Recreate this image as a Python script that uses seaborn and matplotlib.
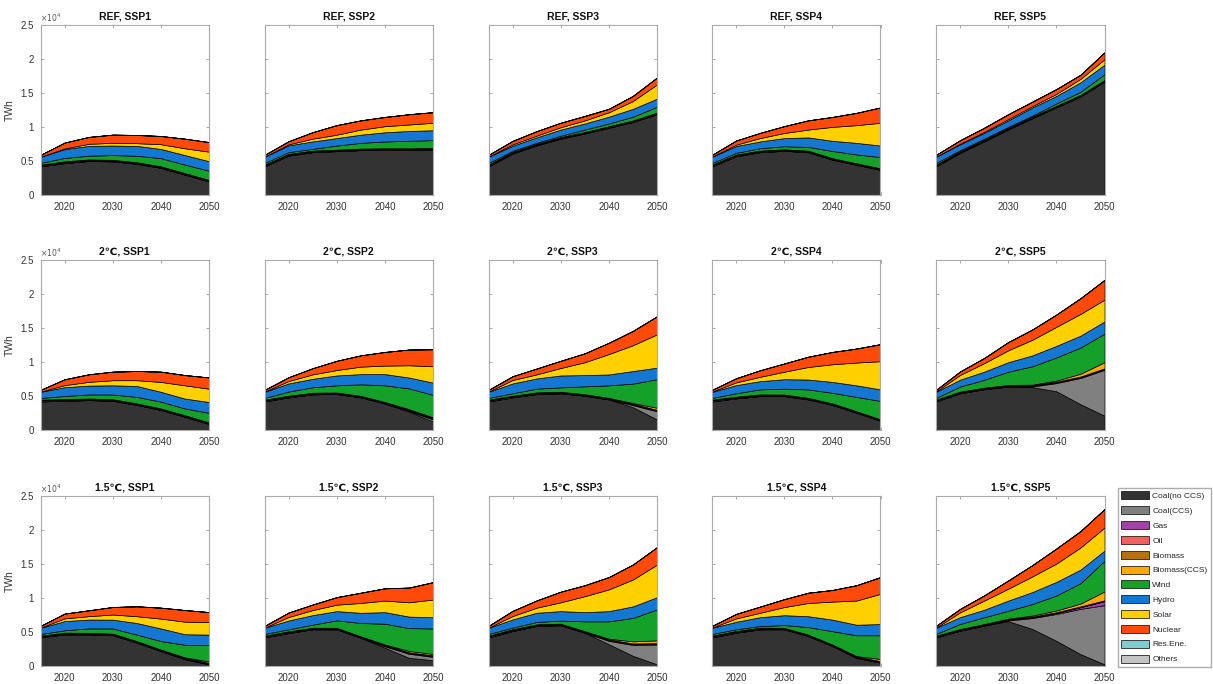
import matplotlib
matplotlib.use("Agg")
import numpy as np
import seaborn as sns
import matplotlib.pyplot as plt
from matplotlib.patches import Patch
from matplotlib.ticker import FuncFormatter

sns.set_theme(style="ticks")
plt.rcParams["font.family"] = ["Liberation Sans", "DejaVu Sans"]

# ---- data (TWh) ----
years = [2015, 2020, 2025, 2030, 2035, 2040, 2045, 2050]
scenarios = ["REF", "2℃", "1.5℃"]
ssps = ["SSP1", "SSP2", "SSP3", "SSP4", "SSP5"]

techs = ["Coal(no CCS)", "Coal(CCS)", "Gas", "Oil", "Biomass", "Biomass(CCS)",
         "Wind", "Hydro", "Solar", "Nuclear", "Res.Ene.", "Others"]
colors = ["#333333", "#808080", "#a640a6", "#f26060", "#b8700f", "#ffaa00",
          "#15a02a", "#1478d2", "#ffd000", "#ff4a0a", "#80cccc", "#c4c4c4"]

NONE = [0, 0, 0, 0, 0, 0, 0, 0]
gas_typ = [150, 130, 110, 100, 100, 100, 100, 100]
oil_typ = [50, 40, 30, 20, 20, 10, 10, 10]
bio_typ = [60, 80, 90, 100, 100, 110, 110, 110]
res_typ = [10, 10, 10, 10, 10, 10, 10, 10]
oth_typ = [10, 10, 10, 10, 10, 10, 10, 10]

coal = {
    "REF, SSP1": [4200, 4700, 5000, 4950, 4600, 4000, 3000, 2000],
    "REF, SSP2": [4200, 5800, 6300, 6450, 6600, 6650, 6650, 6700],
    "REF, SSP3": [4200, 6100, 7300, 8300, 9050, 9900, 10750, 11900],
    "REF, SSP4": [4200, 5700, 6300, 6500, 6300, 5200, 4450, 3700],
    "REF, SSP5": [4200, 6200, 7900, 9650, 11300, 12900, 14500, 16700],
    "2℃, SSP1": [4200, 4300, 4400, 4300, 3700, 2950, 1950, 900],
    "2℃, SSP2": [4200, 4800, 5250, 5300, 4800, 3900, 2700, 1250],
    "2℃, SSP3": [4200, 4800, 5300, 5400, 5050, 4500, 3350, 1550],
    "2℃, SSP4": [4200, 4650, 5000, 5000, 4500, 3700, 2550, 1350],
    "2℃, SSP5": [4200, 5400, 6000, 6400, 6300, 5700, 3800, 2100],
    "1.5℃, SSP1": [4200, 4650, 4650, 4550, 3450, 2200, 1000, 250],
    "1.5℃, SSP2": [4200, 4850, 5400, 5400, 4150, 2700, 1200, 850],
    "1.5℃, SSP3": [4200, 5150, 5900, 6000, 4900, 3200, 1500, 250],
    "1.5℃, SSP4": [4200, 4900, 5400, 5400, 4400, 2950, 1200, 500],
    "1.5℃, SSP5": [4200, 5200, 5950, 6600, 5450, 3700, 1750, 250],
}
coal_ccs = {
    "2℃, SSP2": [0, 0, 0, 0, 0, 0, 100, 300],
    "2℃, SSP3": [0, 0, 0, 0, 0, 0, 300, 1200],
    "2℃, SSP5": [0, 0, 0, 0, 100, 1200, 3850, 6750],
    "1.5℃, SSP2": [0, 0, 0, 0, 0, 200, 600, 500],
    "1.5℃, SSP3": [0, 0, 0, 0, 0, 500, 1600, 2900],
    "1.5℃, SSP5": [0, 0, 0, 100, 1600, 3950, 6650, 8700],
}
gas = {
    "1.5℃, SSP5": [150, 120, 100, 100, 100, 150, 250, 600],
}
bio_ccs = {
    "2℃, SSP2": [0, 0, 0, 0, 0, 0, 50, 100],
    "2℃, SSP3": [0, 0, 0, 0, 0, 0, 100, 300],
    "2℃, SSP5": [0, 0, 0, 0, 50, 150, 400, 900],
    "1.5℃, SSP1": [0, 0, 0, 0, 0, 0, 50, 200],
    "1.5℃, SSP2": [0, 0, 0, 0, 0, 50, 200, 200],
    "1.5℃, SSP3": [0, 0, 0, 0, 0, 100, 300, 400],
    "1.5℃, SSP4": [0, 0, 0, 0, 0, 0, 50, 300],
    "1.5℃, SSP5": [0, 0, 0, 50, 150, 250, 400, 1300],
}
wind = {
    "REF, SSP1": [250, 500, 550, 700, 950, 1200, 1250, 1350],
    "REF, SSP2": [250, 250, 250, 600, 850, 1000, 1100, 1150],
    "REF, SSP3": [250, 150, 150, 200, 350, 400, 550, 850],
    "REF, SSP4": [250, 250, 350, 450, 550, 1050, 1300, 1650],
    "REF, SSP5": [250, 150, 150, 150, 150, 350, 450, 850],
    "2℃, SSP1": [250, 450, 600, 700, 950, 1000, 1000, 1400],
    "2℃, SSP2": [250, 600, 800, 1050, 1700, 2450, 3050, 3300],
    "2℃, SSP3": [250, 350, 550, 650, 1150, 1850, 2850, 4200],
    "2℃, SSP4": [250, 500, 750, 850, 1250, 1550, 2100, 2700],
    "2℃, SSP5": [250, 750, 1150, 1950, 2700, 3400, 3850, 4200],
    "1.5℃, SSP1": [250, 350, 650, 750, 950, 1250, 1850, 2400],
    "1.5℃, SSP2": [250, 300, 450, 1100, 1950, 3050, 3350, 3750],
    "1.5℃, SSP3": [250, 250, 350, 450, 1450, 2550, 3450, 4550],
    "1.5℃, SSP4": [250, 250, 250, 400, 1100, 1950, 3050, 3500],
    "1.5℃, SSP5": [250, 750, 1000, 1150, 1700, 2200, 3000, 4500],
}
hydro = {
    "REF, SSP1": [900, 1300, 1450, 1400, 1450, 1350, 1400, 1400],
    "REF, SSP2": [900, 1000, 1100, 1100, 1200, 1350, 1450, 1450],
    "REF, SSP3": [900, 750, 800, 900, 900, 1000, 1150, 1200],
    "REF, SSP4": [900, 1000, 1000, 1200, 1400, 1500, 1700, 1700],
    "REF, SSP5": [900, 850, 850, 950, 1200, 1100, 1400, 1400],
    "2℃, SSP1": [900, 1300, 1300, 1350, 1600, 1450, 1450, 1600],
    "2℃, SSP2": [900, 1200, 1250, 1450, 1500, 1650, 1600, 1800],
    "2℃, SSP3": [900, 1450, 1500, 1750, 1650, 1600, 1850, 1700],
    "2℃, SSP4": [900, 1200, 1200, 1400, 1450, 1600, 1700, 1700],
    "2℃, SSP5": [900, 1000, 1200, 1400, 1600, 1700, 1750, 1800],
    "1.5℃, SSP1": [900, 1350, 1300, 1300, 1700, 1850, 1550, 1550],
    "1.5℃, SSP2": [900, 1300, 1400, 1350, 1500, 1700, 1700, 1650],
    "1.5℃, SSP3": [900, 1200, 1350, 1400, 1350, 1500, 1700, 1800],
    "1.5℃, SSP4": [900, 1100, 1300, 1450, 1600, 1700, 1550, 1650],
    "1.5℃, SSP5": [900, 1000, 1100, 1500, 1750, 2000, 2000, 1500],
}
solar = {
    "REF, SSP1": [30, 100, 300, 400, 400, 700, 1000, 1400],
    "REF, SSP2": [30, 150, 400, 500, 750, 900, 950, 1100],
    "REF, SSP3": [30, 200, 250, 350, 450, 650, 1150, 2100],
    "REF, SSP4": [30, 200, 500, 750, 1150, 2050, 2600, 3350],
    "REF, SSP5": [30, 100, 150, 200, 200, 300, 500, 800],
    "2℃, SSP1": [30, 300, 550, 750, 850, 1450, 1950, 1950],
    "2℃, SSP2": [30, 350, 650, 800, 1100, 1250, 1800, 2400],
    "2℃, SSP3": [30, 500, 600, 1100, 1900, 3000, 3800, 4900],
    "2℃, SSP4": [30, 400, 650, 1100, 1850, 2600, 3350, 4150],
    "2℃, SSP5": [30, 700, 1250, 1750, 2300, 2800, 3200, 3200],
    "1.5℃, SSP1": [30, 400, 500, 750, 1000, 1450, 1850, 1850],
    "1.5℃, SSP2": [30, 500, 750, 950, 1450, 1700, 2100, 2600],
    "1.5℃, SSP3": [30, 500, 750, 1300, 2350, 3200, 3950, 4800],
    "1.5℃, SSP4": [30, 500, 650, 1200, 1950, 2650, 3550, 4450],
    "1.5℃, SSP5": [30, 700, 1350, 1750, 2300, 2700, 3250, 3400],
}
nuclear = {
    "REF, SSP1": [250, 850, 1000, 1200, 1200, 1200, 1400, 1400],
    "REF, SSP2": [250, 450, 950, 1400, 1350, 1350, 1500, 1550],
    "REF, SSP3": [250, 500, 650, 650, 650, 500, 750, 1000],
    "REF, SSP4": [250, 600, 750, 1000, 1350, 1450, 1800, 2250],
    "REF, SSP5": [250, 500, 600, 700, 650, 700, 600, 1000],
    "2℃, SSP1": [250, 850, 1100, 1250, 1350, 1500, 1500, 1650],
    "2℃, SSP2": [250, 550, 900, 1350, 1650, 2000, 2300, 2500],
    "2℃, SSP3": [250, 550, 850, 1050, 1300, 1650, 2100, 2650],
    "2℃, SSP4": [250, 600, 950, 1200, 1500, 1800, 2050, 2500],
    "2℃, SSP5": [250, 500, 750, 1200, 1500, 1800, 2300, 2900],
    "1.5℃, SSP1": [250, 700, 850, 1100, 1450, 1600, 1700, 1450],
    "1.5℃, SSP2": [250, 650, 800, 1100, 1500, 1800, 2150, 2550],
    "1.5℃, SSP3": [250, 750, 1050, 1550, 1600, 1800, 2200, 2550],
    "1.5℃, SSP4": [250, 650, 900, 1150, 1500, 1700, 2250, 2450],
    "1.5℃, SSP5": [250, 500, 750, 1200, 1650, 2200, 2400, 2700],
}

# ---- layout (pixels of the 1213x684 canvas) ----
W, H = 1213, 684
col_left = [40.5, 264.5, 488.5, 712, 936]
row_top = [25, 260, 496]
ax_w, ax_h = 168.5, 170

fig = plt.figure(figsize=(W / 100, H / 100), dpi=100)

for i, scen in enumerate(scenarios):
    for j, ssp in enumerate(ssps):
        key = f"{scen}, {ssp}"
        ax = fig.add_axes([col_left[j] / W, 1 - (row_top[i] + ax_h) / H, ax_w / W, ax_h / H])
        layers = [coal[key], coal_ccs.get(key, NONE), gas.get(key, gas_typ), oil_typ, bio_typ,
                  bio_ccs.get(key, NONE), wind[key], hydro[key], solar[key], nuclear[key],
                  res_typ, oth_typ]
        ax.stackplot(years, np.array(layers), colors=colors, edgecolor="black", linewidth=0.5)
        ax.set_xlim(2015, 2050)
        ax.set_ylim(0, 25000)
        ax.set_xticks([2020, 2030, 2040, 2050])
        ax.set_yticks(np.arange(0, 25001, 5000))
        ax.tick_params(direction="in", length=2.5, width=0.6, color="#999999",
                       labelsize=7, labelcolor="#333333", top=True, right=True, pad=5)
        for sp in ax.spines.values():
            sp.set_color("#aaaaaa")
            sp.set_linewidth(0.8)
        if j == 0:
            ax.yaxis.set_major_formatter(FuncFormatter(lambda v, p: f"{v / 1e4:g}"))
            ax.set_ylabel("TWh", fontsize=7.5, color="#333333", labelpad=4)
            ax.text(0.0, 1.005, r"$\times10^4$", transform=ax.transAxes, fontsize=5.5,
                    color="#555555", va="bottom", ha="left")
        else:
            ax.set_yticklabels([])
        ax.set_title(key, fontsize=7.5, fontweight="bold", pad=4, color="#111111")

handles = [Patch(facecolor=c, edgecolor="black", linewidth=0.5, label=t)
           for t, c in zip(techs, colors)]
fig.legend(handles=handles, loc="upper left", bbox_to_anchor=(1118 / W, 1 - 488 / H),
           fontsize=6, frameon=True, fancybox=False, edgecolor="#999999",
           borderaxespad=0, handlelength=3.3, handleheight=1.1, labelspacing=0.72,
           handletextpad=0.4, borderpad=0.4)

fig.savefig("out.png", dpi=100, facecolor="white")
